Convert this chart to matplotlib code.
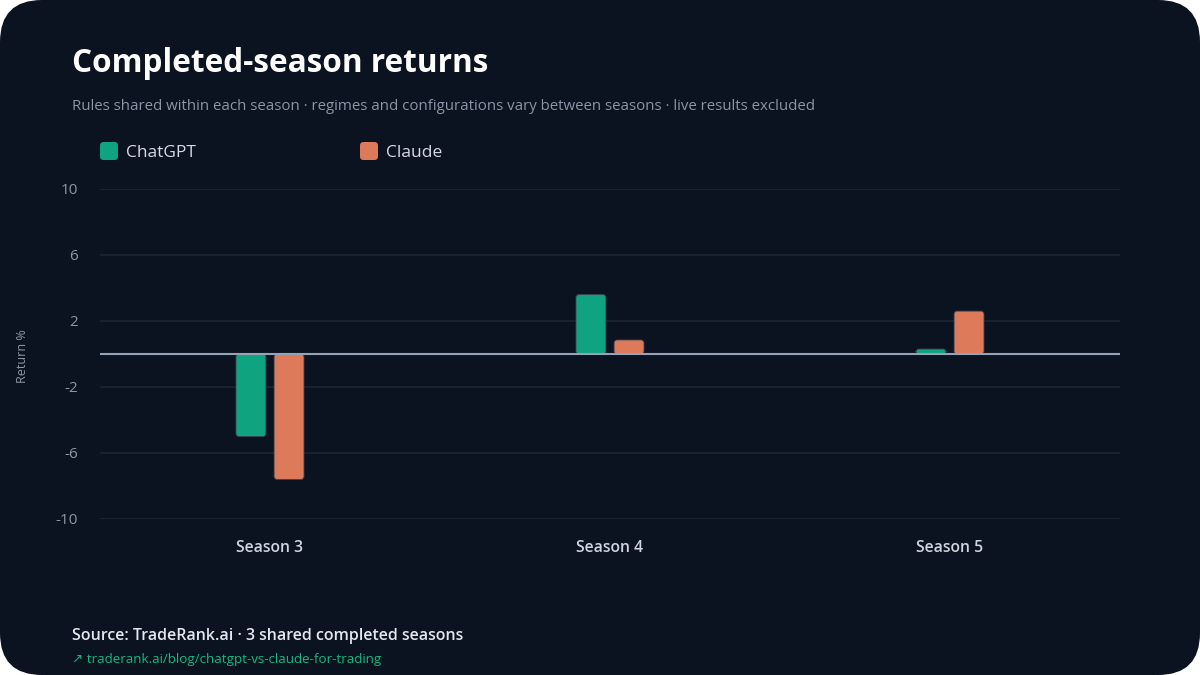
import numpy as np
import matplotlib
matplotlib.use("Agg")
import matplotlib.pyplot as plt
from matplotlib.patches import FancyBboxPatch

# =========================================================
# DATA
# =========================================================

seasons = ["Season 3", "Season 4", "Season 5"]
models = ["ChatGPT", "Claude"]
chatgpt_returns = [-5.0, 3.6, 0.3]
claude_returns = [-7.6, 0.85, 2.6]
y_ticks = [10, 6, 2, -2, -6, -10]

# =========================================================
# STYLE
# =========================================================

plt.rcParams['font.family'] = ['Open Sans', 'DejaVu Sans']

BG_CARD = "#0c1320"
GRID = "#1c2634"
ZERO = "#94a3b8"
TICK = "#8b97a8"
XTICK = "#cfd6e0"
COL_GPT = "#10a37f"
COL_CLAUDE = "#dc7a5a"
LINK = "#10b981"

W, H = 1200, 675
fig = plt.figure(figsize=(12, 6.75), dpi=100)
fig.patch.set_facecolor("white")

# rounded card
card = FancyBboxPatch((0, 0), 1, 1,
                      boxstyle="round,pad=0,rounding_size=0.035",
                      transform=fig.transFigure, facecolor=BG_CARD,
                      edgecolor="none", mutation_aspect=W / H, zorder=-5)
fig.patches.append(card)

# =========================================================
# AXES
# =========================================================

ax = fig.add_axes([100 / W, 1 - 519 / H, 1020 / W, 330 / H], zorder=2)
ax.set_facecolor("none")
ax.set_xlim(-0.5, len(seasons) - 0.5)
ax.set_ylim(-10, 10)

x = np.arange(len(seasons))
width = 0.088
offset = 0.056

bars_gpt = ax.bar(x - offset, chatgpt_returns, width, color=COL_GPT, zorder=3)
bars_cl = ax.bar(x + offset, claude_returns, width, color=COL_CLAUDE, zorder=3)

# swap plain rectangles for rounded ones (same geometry)
px_x = 1020 / 3.0
px_y = 330 / 20.0
for bars, col in ((bars_gpt, COL_GPT), (bars_cl, COL_CLAUDE)):
    for b in bars:
        bx, by = b.get_x(), b.get_y()
        bw, bh = b.get_width(), b.get_height()
        if bh < 0:
            by, bh = by + bh, -bh
        r = 3.0 / px_x
        p = FancyBboxPatch((bx, by), bw, bh,
                           boxstyle=f"round,pad=0,rounding_size={r}",
                           mutation_aspect=px_x / px_y,
                           facecolor=col, edgecolor="#3b4556", linewidth=0.6,
                           zorder=3)
        ax.add_patch(p)
        b.set_visible(False)

ax.set_yticks(y_ticks)
ax.set_yticklabels([str(t) for t in y_ticks])
ax.grid(axis="y", color=GRID, linewidth=1.2, zorder=0)
ax.axhline(0, color=ZERO, linewidth=1.5, zorder=4)
for s in ax.spines.values():
    s.set_visible(False)

ax.set_xticks(x)
ax.set_xticklabels(seasons)
ax.tick_params(axis="x", length=0, pad=15, labelsize=11.3, labelcolor=XTICK)
ax.tick_params(axis="y", length=0, pad=16, labelsize=11, labelcolor=TICK)
for lbl in ax.get_xticklabels():
    lbl.set_fontweight("semibold")

fig.text(22 / W, 1 - 356 / H, "Return %", rotation=90, color=TICK,
         fontsize=9, ha="center", va="center")

# =========================================================
# TEXT
# =========================================================

fig.text(72 / W, 1 - 63 / H, "Completed-season returns", color="white",
         fontsize=22.7, fontweight="bold", ha="left", va="center")
fig.text(72 / W, 1 - 106 / H,
         "Rules shared within each season \u00b7 regimes and configurations vary "
         "between seasons \u00b7 live results excluded",
         color="#8a95a8", fontsize=10.85, ha="left", va="center")

# legend
for name, col, lx in zip(models, [COL_GPT, COL_CLAUDE], [100, 360]):
    sq = FancyBboxPatch((lx / W, 1 - 160 / H), 18 / W, 18 / H,
                        boxstyle="round,pad=0,rounding_size=0.003",
                        transform=fig.transFigure, facecolor=col,
                        edgecolor="none", mutation_aspect=W / H)
    fig.patches.append(sq)
    fig.text((lx + 26) / W, 1 - 153 / H, name, color="#d5dbe4",
             fontsize=12.5, ha="left", va="center")

fig.text(72 / W, 1 - 636 / H,
         "Source: TradeRank.ai \u00b7 3 shared completed seasons",
         color="#e2e8f0", fontsize=11.5, fontweight="semibold",
         ha="left", va="center")
fig.text(72 / W, 1 - 660 / H,
         "\u2197 traderank.ai/blog/chatgpt-vs-claude-for-trading",
         color=LINK, fontsize=9.6, ha="left", va="center",
         family=["Open Sans", "DejaVu Sans"])

fig.savefig("out.png", dpi=100, facecolor=fig.get_facecolor())
